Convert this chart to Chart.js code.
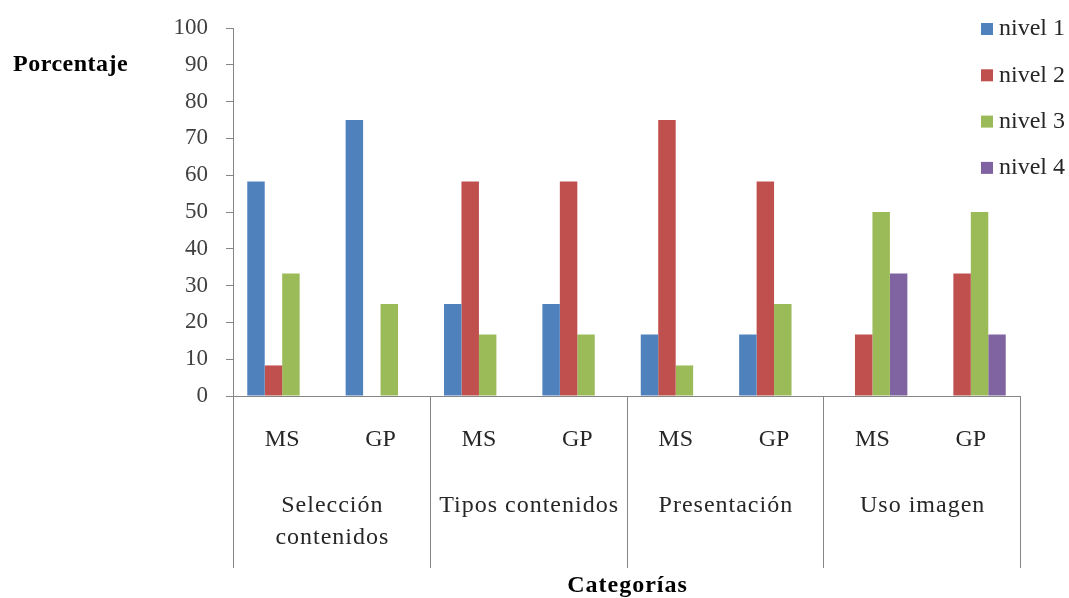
<!DOCTYPE html>
<html>
<head>
<meta charset="utf-8">
<script src="https://cdn.jsdelivr.net/npm/chart.js@4/dist/chart.umd.min.js"></script>
<style>
html,body{margin:0;padding:0;background:#fff;}
#wrap{width:1069px;height:598px;position:relative;}
</style>
</head>
<body>
<div id="wrap"><canvas id="c" width="1069" height="598"></canvas></div>
<script>
const subLabels = ["MS","GP","MS","GP","MS","GP","MS","GP"];
const groupLabels = [["Selección","contenidos"],["Tipos contenidos"],["Presentación"],["Uso imagen"]];
const seriesNames = ["nivel 1","nivel 2","nivel 3","nivel 4"];
const nivel1 = [58.3, 75, 25, 25, 16.7, 16.7, 0, 0];
const nivel2 = [8.3, 0, 58.3, 58.3, 75, 58.3, 16.7, 33.3];
const nivel3 = [33.3, 25, 16.7, 16.7, 8.3, 25, 50, 50];
const nivel4 = [0, 0, 0, 0, 0, 0, 33.3, 16.7];
const yTicks = [0,10,20,30,40,50,60,70,80,90,100];
const colors = ["#4F81BD","#C0504D","#9BBB59","#8064A2"];
const yTitle = "Porcentaje";
const xTitle = "Categorías";
const FONT = "'Liberation Serif', 'DejaVu Serif', serif";

const decor = {
  id: 'decor',
  afterDraw(chart) {
    const ctx = chart.ctx;
    const xs = chart.scales.x;
    const area = chart.chartArea;
    ctx.save();
    // group separators
    ctx.strokeStyle = '#868686';
    ctx.lineWidth = 1;
    const bounds = [xs.left];
    for (let i = 1; i < subLabels.length - 1; i += 2) {
      bounds.push((xs.getPixelForValue(i) + xs.getPixelForValue(i + 1)) / 2);
    }
    bounds.push(xs.right);
    bounds.forEach(b => {
      const x = Math.round(b) + 0.5;
      ctx.beginPath();
      ctx.moveTo(x, area.bottom);
      ctx.lineTo(x, area.bottom + 172);
      ctx.stroke();
    });
    // group labels
    ctx.fillStyle = '#262626';
    ctx.font = "24px " + FONT;
    ctx.letterSpacing = '1px';
    ctx.textAlign = 'center';
    ctx.textBaseline = 'middle';
    groupLabels.forEach((lines, g) => {
      const cx = (xs.getPixelForValue(2 * g) + xs.getPixelForValue(2 * g + 1)) / 2 + 1;
      lines.forEach((ln, k) => ctx.fillText(ln, cx, area.bottom + 110 + k * 32));
    });
    // axis titles
    ctx.font = "bold 24px " + FONT;
    ctx.fillStyle = '#000';
    ctx.letterSpacing = '0.5px';
    ctx.textAlign = 'left';
    ctx.fillText(yTitle, 13, 65);
    ctx.letterSpacing = '1px';
    ctx.textAlign = 'center';
    ctx.fillText(xTitle, (area.left + area.right) / 2 + 1, 586);
    // legend
    ctx.font = "24px " + FONT;
    ctx.letterSpacing = '0px';
    ctx.textAlign = 'left';
    chart.data.datasets.forEach((ds, i) => {
      const y = 29 + i * 46.3;
      ctx.fillStyle = ds.backgroundColor;
      ctx.fillRect(981, y - 6, 12, 12);
      ctx.fillStyle = '#262626';
      ctx.fillText(ds.label, 999, y);
    });
    ctx.restore();
  }
};

new Chart(document.getElementById('c'), {
  type: 'bar',
  data: {
    labels: subLabels,
    datasets: [nivel1, nivel2, nivel3, nivel4].map((d, i) => ({
      label: seriesNames[i],
      data: d,
      backgroundColor: colors[i],
      borderWidth: 0,
      categoryPercentage: 0.71,
      barPercentage: 1.0
    }))
  },
  options: {
    responsive: false,
    animation: false,
    devicePixelRatio: 1,
    layout: { padding: { left: 0, right: 49, top: 28, bottom: 0 } },
    plugins: { legend: { display: false }, tooltip: { enabled: false } },
    scales: {
      x: {
        grid: { display: false },
        border: { display: true, color: '#868686', width: 1 },
        ticks: { color: '#262626', font: { family: FONT, size: 24 }, padding: 21, maxRotation: 0, autoSkip: false },
        afterFit(s) { s.height = 202; s.paddingLeft = 0; s.paddingRight = 0; }
      },
      y: {
        min: 0, max: 100,
        afterBuildTicks(s) { s.ticks = yTicks.map(v => ({ value: v })); },
        grid: { drawOnChartArea: false, drawTicks: true, tickLength: 7, color: '#868686' },
        border: { display: true, color: '#868686', width: 1 },
        ticks: { color: '#404040', font: { family: FONT, size: 23 }, padding: 18 },
        afterFit(s) { s.width = 233; s.paddingTop = 0; s.paddingBottom = 0; }
      }
    }
  },
  plugins: [decor]
});
</script>
</body>
</html>
